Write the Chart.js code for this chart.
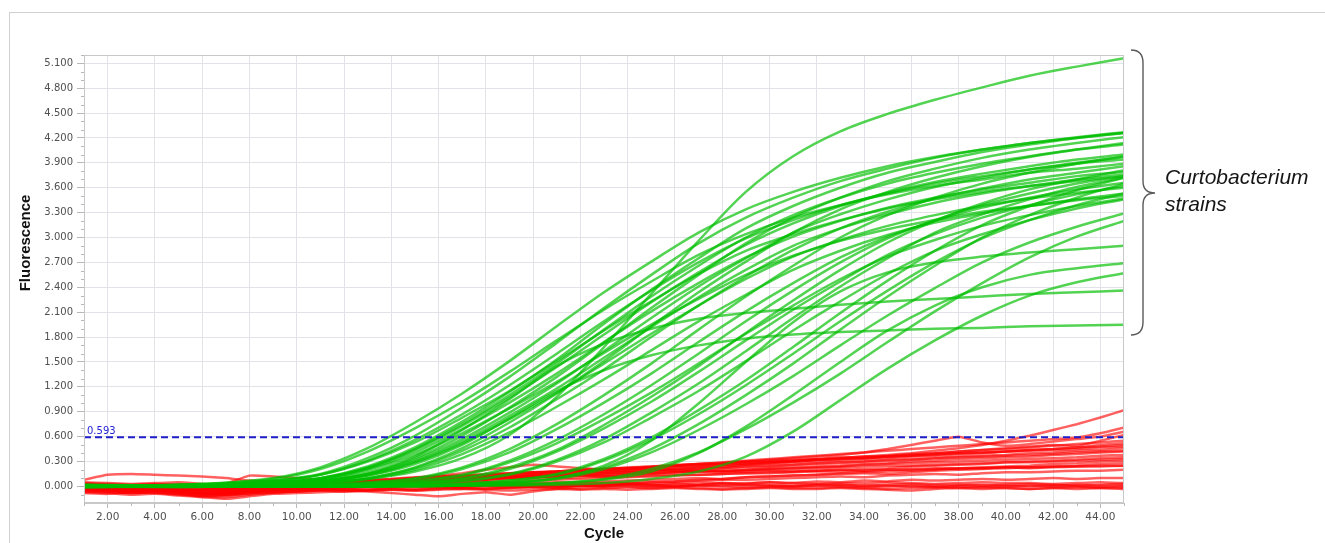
<!DOCTYPE html>
<html>
<head>
<meta charset="utf-8">
<script src="https://cdn.jsdelivr.net/npm/chart.js@4.4.1/dist/chart.umd.min.js"></script>
<style>
body { margin: 0; background: #fff; }
#frame { position: absolute; left: 9px; top: 12px; width: 1330px; height: 540px; border: 1.5px solid #d0d0d0; }
#wrap { position: absolute; left: 0; top: 0; width: 1325px; height: 543px; }
</style>
</head>
<body>
<div id="frame"></div>
<div id="wrap"><canvas id="qpcr" width="1325" height="543"></canvas></div>
<script>
// amplification curves
var greenCycles = [1, 5, 9, 11, 13, 15, 17, 19, 21, 23, 25, 27, 29, 31, 33, 35, 37, 39, 41, 43, 45];
var redCycles = [1, 2, 3, 4, 5, 6, 7, 8, 9, 10, 11, 12, 13, 14, 15, 16, 17, 18, 19, 20,
  21, 22, 23, 24, 25, 26, 27, 28, 29, 30, 31, 32, 33, 34, 35, 36, 37, 38, 39, 40, 41, 42, 43, 44, 45];
var xTicks = [2, 4, 6, 8, 10, 12, 14, 16, 18, 20, 22, 24, 26, 28, 30, 32, 34, 36, 38, 40, 42, 44];
var yTicks = [0, 0.3, 0.6, 0.9, 1.2, 1.5, 1.8, 2.1, 2.4, 2.7, 3.0, 3.3, 3.6, 3.9, 4.2, 4.5, 4.8, 5.1];
var threshold = 0.593;

// Curtobacterium strains (green)
var greenSeries = [
  [0.01,0.02,0.10,0.23,0.46,0.77,1.12,1.51,1.93,2.34,2.71,3.06,3.34,3.55,3.72,3.86,3.97,4.06,4.14,4.20,4.26],
  [-0.01,0.01,0.07,0.14,0.31,0.56,0.87,1.22,1.60,1.99,2.36,2.70,2.99,3.21,3.39,3.53,3.65,3.74,3.82,3.89,3.94],
  [0.02,0.01,0.07,0.15,0.34,0.61,0.95,1.32,1.73,2.15,2.55,2.93,3.24,3.48,3.68,3.83,3.96,4.06,4.14,4.21,4.27],
  [0.00,0.01,0.05,0.10,0.23,0.45,0.75,1.10,1.48,1.89,2.29,2.66,3.00,3.27,3.48,3.65,3.78,3.89,3.98,4.06,4.12],
  [0.01,0.00,0.04,0.09,0.21,0.41,0.69,1.01,1.36,1.74,2.11,2.45,2.76,3.01,3.20,3.36,3.48,3.58,3.66,3.74,3.79],
  [0.00,0.02,0.05,0.10,0.24,0.47,0.78,1.14,1.53,1.96,2.37,2.75,3.11,3.38,3.60,3.78,3.91,4.03,4.12,4.20,4.26],
  [0.01,0.00,0.03,0.07,0.15,0.32,0.57,0.89,1.24,1.63,2.03,2.41,2.75,3.06,3.28,3.46,3.61,3.72,3.82,3.90,3.97],
  [-0.01,0.00,0.03,0.06,0.13,0.29,0.52,0.81,1.13,1.48,1.84,2.18,2.50,2.77,2.97,3.14,3.27,3.38,3.47,3.54,3.60],
  [0.00,0.01,0.03,0.07,0.15,0.34,0.61,0.95,1.32,1.73,2.15,2.55,2.93,3.24,3.48,3.68,3.83,3.96,4.06,4.14,4.21],
  [0.02,0.00,0.02,0.04,0.10,0.22,0.43,0.71,1.05,1.41,1.80,2.18,2.53,2.85,3.11,3.31,3.47,3.59,3.70,3.78,3.86],
  [0.00,-0.01,0.02,0.04,0.09,0.20,0.39,0.65,0.96,1.29,1.64,1.99,2.31,2.61,2.84,3.03,3.18,3.29,3.38,3.46,3.53],
  [0.01,0.01,0.04,0.09,0.20,0.38,0.64,0.94,1.26,1.61,1.95,2.26,2.55,2.78,2.96,3.10,3.21,3.31,3.38,3.45,3.50],
  [0.00,0.01,0.06,0.14,0.30,0.53,0.83,1.15,1.51,1.88,2.23,2.56,2.84,3.04,3.21,3.35,3.46,3.55,3.62,3.68,3.74],
  [0.01,0.00,0.03,0.06,0.14,0.30,0.54,0.85,1.18,1.55,1.92,2.28,2.61,2.90,3.11,3.28,3.42,3.53,3.62,3.70,3.76],
  [0.00,0.02,0.09,0.21,0.42,0.70,1.02,1.38,1.76,2.13,2.47,2.79,3.04,3.24,3.39,3.52,3.62,3.70,3.78,3.83,3.89],
  [0.01,0.00,0.02,0.05,0.10,0.23,0.46,0.77,1.12,1.51,1.93,2.34,2.71,3.06,3.34,3.55,3.72,3.86,3.97,4.06,4.14],
  [-0.01,0.01,0.04,0.10,0.22,0.44,0.73,1.07,1.44,1.83,2.22,2.58,2.91,3.17,3.38,3.54,3.67,3.77,3.86,3.94,4.00],
  [0.01,0.00,0.02,0.04,0.09,0.18,0.34,0.62,1.08,1.68,2.32,2.96,3.55,3.98,4.28,4.49,4.66,4.81,4.95,5.06,5.16],
  [0.00,0.01,0.04,0.08,0.17,0.36,0.68,1.05,1.45,1.72,1.90,2.02,2.09,2.14,2.19,2.23,2.26,2.29,2.32,2.34,2.36],
  [0.01,0.00,0.03,0.06,0.13,0.27,0.50,0.82,1.15,1.40,1.58,1.70,1.78,1.83,1.86,1.88,1.90,1.91,1.93,1.94,1.95],
  [0.01,0.00,0.01,0.02,0.04,0.09,0.21,0.41,0.69,1.01,1.36,1.74,2.11,2.45,2.76,3.01,3.20,3.36,3.48,3.58,3.66],
  [0.00,0.01,0.00,0.01,0.03,0.07,0.14,0.31,0.56,0.87,1.22,1.60,1.99,2.36,2.70,2.99,3.21,3.39,3.53,3.65,3.74],
  [0.01,0.00,0.00,0.01,0.03,0.06,0.13,0.29,0.52,0.81,1.13,1.48,1.84,2.18,2.50,2.77,2.97,3.14,3.27,3.38,3.47],
  [0.00,0.00,0.01,0.01,0.02,0.04,0.09,0.21,0.42,0.70,1.02,1.38,1.76,2.13,2.47,2.79,3.04,3.24,3.39,3.52,3.62],
  [0.01,0.00,0.00,0.01,0.02,0.04,0.10,0.23,0.44,0.74,1.08,1.45,1.85,2.24,2.61,2.94,3.20,3.41,3.58,3.70,3.81],
  [0.00,0.01,0.00,0.00,0.01,0.03,0.06,0.14,0.30,0.53,0.83,1.15,1.51,1.88,2.23,2.56,2.84,3.04,3.21,3.35,3.46],
  [0.01,0.00,0.00,0.00,0.01,0.03,0.07,0.15,0.32,0.57,0.89,1.24,1.63,2.03,2.41,2.75,3.06,3.28,3.46,3.61,3.72],
  [0.00,0.00,0.01,0.02,0.05,0.10,0.23,0.45,0.75,1.10,1.48,1.89,2.29,2.66,3.00,3.27,3.48,3.65,3.78,3.89,3.98],
  [0.00,0.01,0.00,0.00,0.00,0.01,0.03,0.07,0.14,0.31,0.56,0.87,1.22,1.60,1.99,2.36,2.70,2.99,3.21,3.39,3.53],
  [0.01,0.00,0.00,0.00,0.00,0.01,0.02,0.05,0.10,0.23,0.45,0.75,1.10,1.48,1.89,2.29,2.66,3.00,3.27,3.48,3.65],
  [0.00,0.00,0.00,0.00,0.00,0.01,0.02,0.04,0.09,0.21,0.41,0.68,0.99,1.33,1.70,2.06,2.39,2.70,2.94,3.13,3.29],
  [0.00,0.00,0.00,0.00,0.01,0.01,0.03,0.07,0.15,0.33,0.59,0.92,1.28,1.68,2.09,2.48,2.84,3.15,3.38,3.57,3.72],
  [0.00,0.01,0.00,0.00,0.00,0.00,0.01,0.02,0.04,0.09,0.21,0.41,0.69,1.01,1.36,1.74,2.11,2.45,2.76,3.01,3.20],
  [0.00,0.00,0.01,0.00,0.01,0.01,0.02,0.04,0.10,0.25,0.55,1.00,1.50,1.98,2.35,2.58,2.70,2.77,2.82,2.86,2.90],
  [0.01,0.00,0.00,0.01,0.00,0.01,0.01,0.02,0.04,0.08,0.18,0.40,0.72,1.10,1.50,1.88,2.18,2.40,2.55,2.63,2.69],
  [0.00,0.01,0.00,0.00,0.01,0.00,0.01,0.01,0.02,0.04,0.09,0.18,0.36,0.66,1.04,1.42,1.76,2.06,2.30,2.46,2.57]
];

// other samples (red), one value per cycle
var redSeries = [
  [0.03,0.02,0.01,0.02,0.03,0.01,0.00,0.02,0.03,0.02, 0.01,0.02,0.03,0.02,0.01,0.03,0.02,0.02,0.01,0.03,
   0.02,0.01,0.02,0.03,0.02,0.01,0.02,0.03,0.02,0.02, 0.01,0.03,0.02,0.01,0.02,0.03,0.02,0.02,0.01,0.02, 0.03,0.02,0.01,0.02,0.03],
  [-0.03,-0.05,-0.06,-0.04,-0.05,-0.08,-0.07,-0.04,-0.03,-0.04, -0.02,-0.03,-0.04,-0.02,-0.03,-0.01,-0.02,-0.03,-0.02,-0.01,
   -0.02,-0.03,-0.02,-0.01,-0.02,-0.01,-0.02,-0.03,-0.02,-0.01, -0.02,-0.02,-0.01,-0.02,-0.03,-0.02,-0.01,-0.02,-0.01,-0.02, -0.03,-0.02,-0.01,-0.02,-0.02],
  [0.01,-0.01,-0.02,0.00,0.01,-0.01,-0.03,-0.01,0.00,0.01, 0.00,-0.01,0.00,0.01,0.00,-0.01,0.00,0.01,0.00,-0.01,
   0.00,0.01,0.00,0.00,-0.01,0.00,0.01,0.00,-0.01,0.00, 0.00,0.01,0.00,-0.01,0.00,0.01,0.00,0.00,-0.01,0.00, 0.01,0.00,0.00,-0.01,0.00],
  [0.05,0.04,0.03,0.04,0.05,0.03,0.02,0.04,0.05,0.04, 0.05,0.04,0.03,0.04,0.05,0.04,0.04,0.05,0.04,0.03,
   0.04,0.05,0.04,0.04,0.03,0.04,0.05,0.04,0.04,0.05, 0.04,0.03,0.04,0.04,0.05,0.04,0.03,0.04,0.05,0.04, 0.04,0.03,0.04,0.05,0.04],
  [-0.08,-0.09,-0.07,-0.08,-0.10,-0.12,-0.10,-0.08,-0.07,-0.06, -0.05,-0.06,-0.05,-0.04,-0.05,-0.04,-0.03,-0.04,-0.05,-0.04,
   -0.03,-0.04,-0.03,-0.04,-0.03,-0.02,-0.03,-0.04,-0.03,-0.02, -0.03,-0.03,-0.02,-0.03,-0.04,-0.05,-0.03,-0.02,-0.03,-0.02, -0.03,-0.02,-0.03,-0.02,-0.03],
  [0.00,0.01,0.00,-0.01,0.00,0.01,-0.02,0.00,0.01,0.02, 0.01,0.00,0.01,0.02,0.01,0.01,0.00,0.01,0.02,0.01,
   0.00,0.01,0.01,0.02,0.01,0.00,0.01,0.01,0.02,0.01, 0.00,0.01,0.02,0.01,0.01,0.00,-0.01,0.01,0.02,0.01, 0.00,0.01,0.02,0.01,0.01],
  [0.08,0.14,0.15,0.14,0.13,0.12,0.10,0.07,0.06,0.05, 0.04,0.05,0.04,0.05,0.06,0.07,0.06,0.08,0.09,0.10,
   0.10,0.11,0.12,0.12,0.13,0.14,0.14,0.15,0.16,0.16, 0.17,0.18,0.18,0.19,0.20,0.20,0.21,0.22,0.22,0.23, 0.23,0.24,0.24,0.25,0.25],
  [-0.04,-0.05,-0.06,-0.05,-0.07,-0.09,-0.08,-0.06,-0.05,-0.04, -0.03,-0.04,-0.02,-0.01,0.00,0.01,0.00,0.02,0.03,0.04,
   0.05,0.04,0.06,0.07,0.08,0.09,0.10,0.09,0.11,0.12, 0.13,0.14,0.15,0.16,0.15,0.17,0.19,0.20,0.21,0.22, 0.23,0.24,0.25,0.27,0.28],
  [-0.02,-0.03,-0.04,-0.03,-0.05,-0.06,-0.05,-0.03,-0.02,-0.01, 0.00,0.01,0.02,0.01,0.03,0.04,0.05,0.06,0.05,0.07,
   0.08,0.09,0.10,0.11,0.12,0.13,0.14,0.15,0.16,0.17, 0.18,0.19,0.20,0.21,0.22,0.24,0.25,0.26,0.27,0.29, 0.30,0.31,0.32,0.34,0.35],
  [0.01,0.00,-0.02,-0.01,-0.03,-0.04,-0.05,-0.02,0.00,0.01, 0.02,0.03,0.04,0.06,0.05,0.07,0.08,0.09,0.10,0.11,
   0.12,0.13,0.12,0.14,0.15,0.17,0.18,0.19,0.20,0.22, 0.23,0.24,0.25,0.27,0.28,0.30,0.31,0.33,0.34,0.35, 0.36,0.38,0.39,0.41,0.42],
  [-0.05,-0.06,-0.08,-0.07,-0.09,-0.11,-0.10,-0.07,-0.05,-0.03, -0.01,0.02,0.04,0.07,0.10,0.13,0.16,0.20,0.23,0.26,
   0.24,0.22,0.21,0.23,0.24,0.26,0.27,0.28,0.30,0.31, 0.32,0.33,0.35,0.34,0.36,0.37,0.39,0.40,0.41,0.42, 0.43,0.44,0.45,0.47,0.48],
  [-0.03,-0.04,-0.05,-0.04,-0.06,-0.08,-0.09,-0.06,-0.05,-0.04, -0.02,-0.01,0.01,0.02,0.04,0.05,0.07,0.08,0.10,0.11,
   0.13,0.15,0.16,0.18,0.19,0.21,0.23,0.24,0.26,0.27, 0.29,0.30,0.31,0.33,0.34,0.36,0.37,0.39,0.40,0.42, 0.44,0.45,0.47,0.50,0.52],
  [0.02,0.01,0.00,0.01,-0.01,-0.02,-0.03,0.00,0.02,0.03, 0.05,0.06,0.07,0.09,0.10,0.12,0.13,0.14,0.16,0.17,
   0.18,0.20,0.21,0.22,0.24,0.25,0.27,0.28,0.30,0.32, 0.34,0.36,0.38,0.41,0.45,0.50,0.55,0.60,0.53,0.49, 0.51,0.54,0.57,0.60,0.66],
  [-0.01,-0.02,-0.03,-0.02,-0.04,-0.05,-0.04,-0.02,0.00,0.02, 0.04,0.05,0.07,0.08,0.10,0.11,0.12,0.13,0.14,0.15,
   0.16,0.17,0.18,0.19,0.20,0.21,0.22,0.24,0.26,0.28, 0.30,0.32,0.34,0.36,0.38,0.40,0.43,0.46,0.50,0.55, 0.61,0.68,0.75,0.83,0.92],
  [-0.06,-0.07,-0.08,-0.07,-0.09,-0.12,-0.13,-0.10,-0.08,-0.06, -0.04,-0.02,0.00,0.02,0.04,0.06,0.08,0.10,0.12,0.14,
   0.16,0.18,0.19,0.21,0.23,0.25,0.27,0.29,0.31,0.33, 0.35,0.37,0.39,0.41,0.43,0.45,0.47,0.49,0.51,0.53, 0.55,0.57,0.59,0.64,0.71],
  [0.03,0.02,0.01,0.02,0.00,-0.01,-0.02,0.01,0.02,0.03, 0.04,0.05,0.06,0.05,0.07,0.08,0.09,0.10,0.11,0.12,
   0.13,0.14,0.13,0.15,0.16,0.17,0.19,0.18,0.20,0.21, 0.22,0.23,0.24,0.26,0.27,0.28,0.29,0.30,0.31,0.32, 0.33,0.34,0.35,0.37,0.38],
  [-0.02,-0.03,-0.05,-0.04,-0.06,-0.08,-0.07,-0.05,-0.03,-0.02, 0.00,0.02,0.04,0.06,0.08,0.10,0.12,0.13,0.15,0.17,
   0.18,0.20,0.21,0.22,0.21,0.19,0.18,0.17,0.18,0.19, 0.18,0.19,0.20,0.19,0.20,0.21,0.22,0.21,0.22,0.23, 0.22,0.23,0.24,0.24,0.25],
  [0.00,-0.01,-0.02,-0.01,-0.03,-0.05,-0.06,-0.04,-0.03,-0.01, 0.00,0.01,0.03,0.04,0.05,0.07,0.08,0.09,0.11,0.12,
   0.13,0.14,0.16,0.17,0.18,0.20,0.21,0.22,0.24,0.25, 0.26,0.28,0.29,0.30,0.32,0.33,0.34,0.36,0.37,0.38, 0.40,0.41,0.43,0.44,0.46],
  [-0.04,-0.05,-0.06,-0.05,-0.07,-0.09,-0.10,-0.08,-0.06,-0.05, -0.04,-0.05,-0.06,-0.08,-0.10,-0.12,-0.09,-0.07,-0.10,-0.06,
   -0.03,-0.01,0.01,0.03,0.05,0.06,0.08,0.09,0.11,0.12, 0.13,0.14,0.16,0.17,0.18,0.19,0.20,0.22,0.23,0.24, 0.25,0.27,0.28,0.30,0.31],
  [0.04,0.03,0.02,0.03,0.01,0.00,-0.01,0.02,0.04,0.05, 0.06,0.07,0.08,0.09,0.11,0.12,0.13,0.15,0.16,0.17,
   0.18,0.19,0.21,0.22,0.23,0.25,0.26,0.27,0.29,0.30, 0.31,0.33,0.34,0.36,0.37,0.39,0.40,0.42,0.44,0.45, 0.47,0.49,0.51,0.53,0.55],
  [-0.07,-0.08,-0.10,-0.09,-0.11,-0.13,-0.15,-0.12,-0.09,-0.08, -0.07,-0.06,-0.05,-0.04,-0.05,-0.03,-0.02,-0.03,-0.01,0.00,
   0.01,0.02,0.03,0.04,0.05,0.06,0.07,0.08,0.08,0.09, 0.10,0.11,0.12,0.11,0.13,0.14,0.15,0.14,0.16,0.17, 0.17,0.18,0.19,0.19,0.20],
  [-0.01,-0.02,-0.03,-0.04,-0.05,-0.04,0.03,0.13,0.12,0.10, 0.08,0.07,0.06,0.07,0.08,0.09,0.10,0.11,0.12,0.13,
   0.14,0.15,0.16,0.17,0.18,0.19,0.20,0.22,0.23,0.24, 0.26,0.27,0.28,0.30,0.31,0.32,0.34,0.35,0.36,0.37, 0.38,0.39,0.41,0.42,0.43],
  [0.00,-0.01,-0.03,-0.02,-0.04,-0.06,-0.07,-0.05,-0.03,-0.02, 0.00,0.02,0.03,0.05,0.06,0.08,0.09,0.11,0.12,0.14,
   0.15,0.17,0.18,0.20,0.21,0.23,0.24,0.26,0.27,0.29, 0.30,0.32,0.33,0.35,0.36,0.38,0.40,0.42,0.44,0.46, 0.48,0.50,0.49,0.55,0.62],
  [-0.05,-0.06,-0.07,-0.06,-0.08,-0.10,-0.11,-0.09,-0.07,-0.06, -0.05,-0.04,-0.05,-0.03,-0.04,-0.02,-0.03,-0.01,-0.02,0.00,
   -0.01,0.01,0.00,0.02,0.01,0.03,0.02,0.04,0.03,0.05, 0.04,0.06,0.05,0.07,0.06,0.08,0.07,0.08,0.09,0.08, 0.09,0.10,0.09,0.10,0.10],
  [0.02,0.00,-0.01,0.00,-0.02,-0.03,-0.04,-0.01,0.01,0.02, 0.03,0.04,0.05,0.06,0.07,0.08,0.09,0.10,0.11,0.12,
   0.12,0.13,0.14,0.15,0.16,0.17,0.18,0.19,0.19,0.20, 0.21,0.22,0.23,0.24,0.25,0.25,0.26,0.27,0.28,0.29, 0.29,0.30,0.31,0.32,0.33],
  [-0.03,-0.04,-0.06,-0.05,-0.07,-0.09,-0.08,-0.06,-0.04,-0.03, -0.01,0.01,0.03,0.05,0.07,0.09,0.11,0.13,0.15,0.16,
   0.18,0.19,0.20,0.21,0.23,0.24,0.25,0.27,0.28,0.29, 0.31,0.32,0.33,0.34,0.36,0.37,0.38,0.40,0.41,0.42, 0.44,0.45,0.47,0.48,0.50]
];

var GREEN = 'rgba(0,190,0,0.68)';
var RED = 'rgba(255,0,0,0.62)';
var tickFont = { family: 'DejaVu Sans', size: 10 };

function points(xs, ys) {
  return ys.map(function (v, i) { return { x: xs[i], y: v }; });
}

var datasets = [];
datasets.push({
  data: [{ x: 1, y: threshold }, { x: 45, y: threshold }],
  borderColor: '#1f1fc8', borderWidth: 2, borderDash: [7, 4], pointRadius: 0
});
greenSeries.forEach(function (s) {
  datasets.push({
    data: points(greenCycles, s), borderColor: GREEN, borderWidth: 2.5,
    pointRadius: 0, cubicInterpolationMode: 'monotone'
  });
});
redSeries.forEach(function (s) {
  datasets.push({
    data: points(redCycles, s), borderColor: RED, borderWidth: 2.5,
    pointRadius: 0, tension: 0.15
  });
});

// frame, minor ticks, threshold label, y title and bracket
var extras = {
  id: 'extras',
  afterDraw: function (chart) {
    var ctx = chart.ctx, a = chart.chartArea, x = chart.scales.x, y = chart.scales.y;
    ctx.save();
    ctx.strokeStyle = '#c8c8c8';
    ctx.lineWidth = 1;
    ctx.strokeRect(a.left + 0.5, a.top + 0.5, a.right - a.left - 1, a.bottom - a.top - 1);

    ctx.strokeStyle = '#b8b8b8';
    ctx.beginPath();
    for (var c = 1; c <= 45; c += 2) {
      var px = Math.round(x.getPixelForValue(c)) + 0.5;
      ctx.moveTo(px, a.bottom); ctx.lineTo(px, a.bottom + 3);
    }
    for (var k = -1; k <= 52; k++) {
      if (k % 3 === 0) continue;
      var py = Math.round(y.getPixelForValue(k / 10)) + 0.5;
      if (py < a.top || py > a.bottom) continue;
      ctx.moveTo(a.left - 3, py); ctx.lineTo(a.left, py);
    }
    ctx.stroke();

    ctx.fillStyle = '#2424d6';
    ctx.font = '10px "DejaVu Sans"';
    ctx.textAlign = 'left';
    ctx.textBaseline = 'alphabetic';
    ctx.fillText(threshold.toFixed(3), a.left + 3, y.getPixelForValue(threshold) - 3);

    ctx.fillStyle = '#111';
    ctx.font = 'bold 15px "Liberation Sans"';
    ctx.translate(26, 243);
    ctx.rotate(-Math.PI / 2);
    ctx.textAlign = 'center';
    ctx.textBaseline = 'middle';
    ctx.fillText('Fluorescence', 0, 0);
    ctx.setTransform(1, 0, 0, 1, 0, 0);

    ctx.strokeStyle = '#5a5a5a';
    ctx.lineWidth = 1.4;
    ctx.beginPath();
    ctx.moveTo(1131, 50);
    ctx.quadraticCurveTo(1143, 50, 1143, 63);
    ctx.lineTo(1143, 181);
    ctx.quadraticCurveTo(1143, 193, 1155, 193);
    ctx.quadraticCurveTo(1143, 193, 1143, 205);
    ctx.lineTo(1143, 322);
    ctx.quadraticCurveTo(1143, 335, 1131, 335);
    ctx.stroke();

    ctx.fillStyle = '#151515';
    ctx.font = 'italic 21px "Liberation Sans"';
    ctx.textAlign = 'left';
    ctx.textBaseline = 'alphabetic';
    ctx.fillText('Curtobacterium', 1165, 184);
    ctx.fillText('strains', 1165, 211);
    ctx.restore();
  }
};

new Chart(document.getElementById('qpcr'), {
  type: 'line',
  data: { datasets: datasets },
  options: {
    responsive: false,
    animation: false,
    devicePixelRatio: 1,
    layout: { padding: { left: 0, right: 201, top: 55, bottom: 0 } },
    plugins: { legend: { display: false }, tooltip: { enabled: false } },
    scales: {
      x: {
        type: 'linear', min: 1, max: 45,
        afterBuildTicks: function (s) { s.ticks = xTicks.map(function (v) { return { value: v }; }); },
        afterFit: function (s) { s.height = 40; },
        ticks: {
          font: { family: 'DejaVu Sans', size: 10.5 }, color: '#505050', padding: 3,
          maxRotation: 0, autoSkip: false,
          callback: function (v) { return Number(v).toFixed(2); }
        },
        grid: { color: '#e1e3e8', tickColor: '#b8b8b8', tickLength: 5 },
        border: { color: '#c8c8c8' },
        title: {
          display: true, text: 'Cycle', color: '#111',
          font: { family: 'Liberation Sans', size: 15, weight: 'bold' }, padding: { top: 0, bottom: 0 }
        }
      },
      y: {
        type: 'linear', min: -0.2, max: 5.2,
        afterBuildTicks: function (s) { s.ticks = yTicks.map(function (v) { return { value: v }; }); },
        afterFit: function (s) { s.width = 84; },
        ticks: {
          font: tickFont, color: '#505050', padding: 4, autoSkip: false,
          callback: function (v) { return Number(v).toFixed(3); }
        },
        grid: { color: '#e1e3e8', tickColor: '#b8b8b8', tickLength: 7 },
        border: { color: '#c8c8c8' }
      }
    }
  },
  plugins: [extras]
});
</script>
</body>
</html>
